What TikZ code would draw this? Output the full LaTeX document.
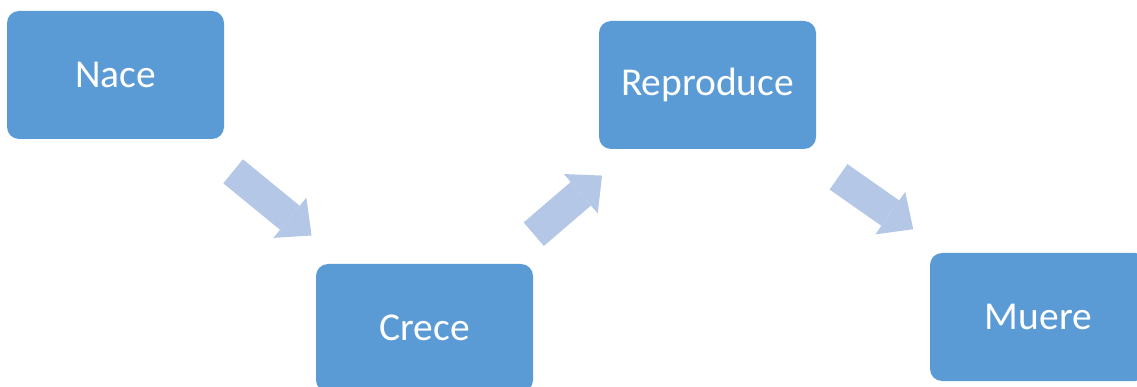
\documentclass[tikz,border=0pt]{standalone}
\usepackage{fontspec}
\setmainfont{Carlito}
\usetikzlibrary{arrows.meta}
\definecolor{boxblue}{RGB}{91, 155, 213}
\definecolor{arrowblue}{RGB}{180, 199, 231}

\begin{document}
\begin{tikzpicture}[x=1pt,y=-1pt,
    box/.style={fill=boxblue,rounded corners=12pt,minimum width=217pt,minimum height=128pt,
      text=white,font=\fontsize{39.5}{46}\selectfont},
    flow/.style={draw=arrowblue,line width=31pt,
      -{Triangle[width=52pt,length=28pt,line width=0pt,color=arrowblue]}}]

\useasboundingbox (0,0) rectangle (1137,387);

% Stages
\node[box] (nace) at (115.5,75) {Nace};
\node[box] (crece) at (424.5,328) {Crece};
\node[box] (repro) at (707.5,85) {Reproduce};
\node[box] (muere) at (1038.5,317) {Muere};

% Arrows
\draw[flow,shorten <=152pt,shorten >=146pt] (nace.center) -- (crece.center);
\draw[flow,shorten <=144pt,shorten >=139pt] (crece.center) -- (repro.center);
\draw[flow,shorten <=160pt,shorten >=153pt] (repro.center) -- (muere.center);
\end{tikzpicture}
\end{document}
